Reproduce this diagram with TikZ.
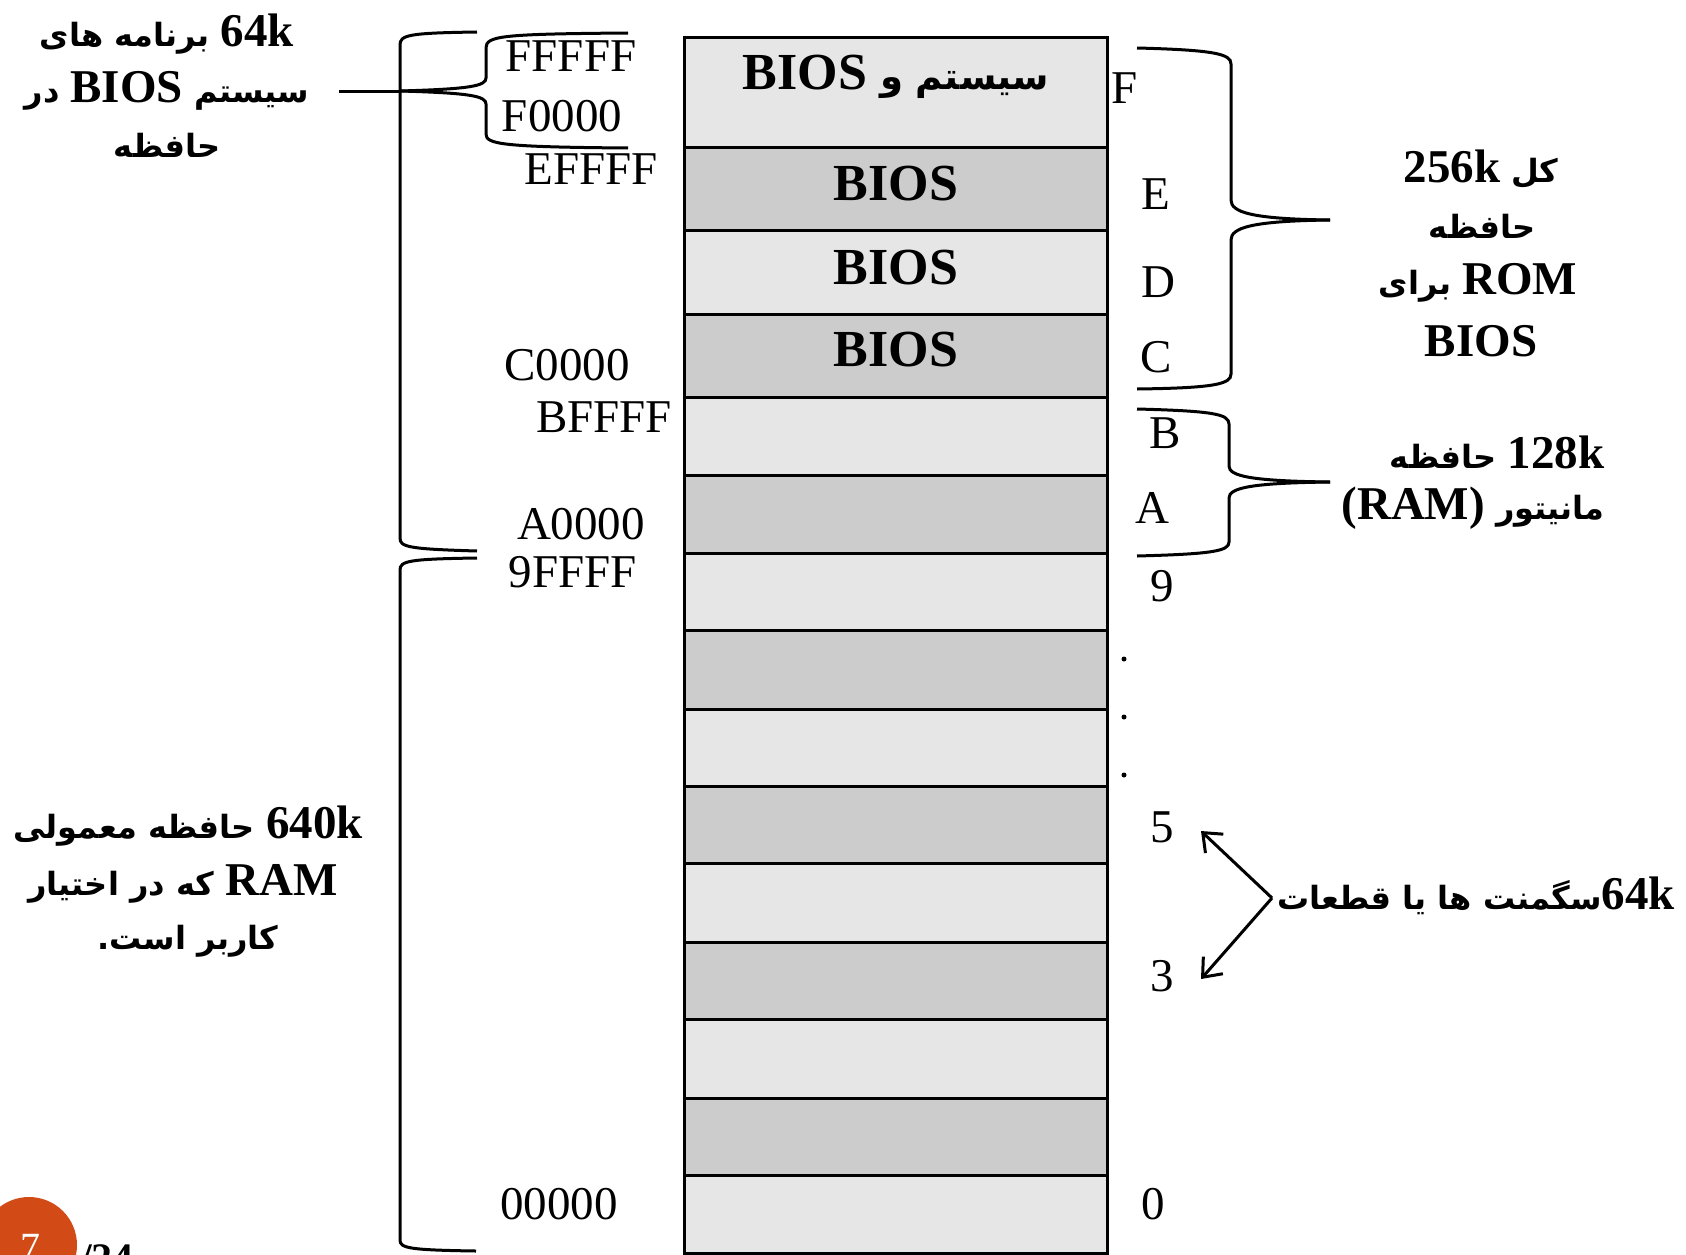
\documentclass[tikz,border=0pt]{standalone}
\usepackage{fontspec}
\setmainfont{Liberation Serif}
\newfontfamily\myfaf[Script=Arabic]{DejaVu Sans}
\TeXXeTstate=1
\usetikzlibrary{arrows.meta}
\definecolor{lightcell}{HTML}{E6E6E6}
\definecolor{darkcell}{HTML}{CCCCCC}
\definecolor{pageorange}{RGB}{210,74,22}
\newcommand\mylbl{\rmfamily\fontsize{47}{56}\selectfont}
\newcommand\myboxb{\rmfamily\fontsize{52}{60}\selectfont\bfseries}
\newcommand\mybld{\rmfamily\fontsize{47}{56}\selectfont\bfseries}
\newcommand\myfa{\myfaf\bfseries\fontsize{32}{40}\selectfont}
\newcommand\myfabig{\myfaf\bfseries\fontsize{37}{44}\selectfont}
\begin{document}
\begin{tikzpicture}[x=1pt,y=-1pt,
  cellbox/.style={draw, line width=3pt, minimum width=423pt, inner sep=0pt, outer sep=0pt, anchor=north west},
  addr/.style={inner sep=0pt, font=\mylbl},
  curly/.style={line width=3pt},
  segarrow/.style={line width=3pt, -{Straight Barb[length=16pt,width=26pt]}},
  fatext/.style={inner sep=0pt, font=\myfa}]
\useasboundingbox (0,0) rectangle (1686,1255);
% memory cells
\foreach \t/\b/\c [count=\i] in {38/147/lightcell,147/230/darkcell,230/314/lightcell,314/397/darkcell,
  397/475/lightcell,475/553/darkcell,553/630/lightcell,630/709/darkcell,709/786/lightcell,786/863/darkcell,
  863/942/lightcell,942/1019/darkcell,1019/1098/lightcell,1098/1175/darkcell,1175/1253/lightcell}
  \node[cellbox, fill=\c, minimum height={(\b-\t)*1pt}] (c\i) at (684,\t) {};
% cell texts
\node[inner sep=0pt, font=\myfabig] (tF) at (896,77) {\beginR سیستم و \beginL{\myboxb BIOS}\endL\endR};
\node[inner sep=0pt, font=\myboxb] (tE) at (896,184) {BIOS};
\node[inner sep=0pt, font=\myboxb] (tD) at (896,268) {BIOS};
\node[inner sep=0pt, font=\myboxb] (tC) at (896,350) {BIOS};
% addresses on the left
\node[addr] (aFFFFF) at (571,56) {FFFFF};
\node[addr] (aF0000) at (562,116) {F0000};
\node[addr] (aEFFFF) at (591,169) {EFFFF};
\node[addr] (aC0000) at (567,365) {C0000};
\node[addr] (aBFFFF) at (604,417) {BFFFF};
\node[addr] (aA0000) at (581,524) {A0000};
\node[addr] (a9FFFF) at (573,572) {9FFFF};
\node[addr] (a00000) at (559,1204) {00000};
% segment numbers on the right
\node[addr] (sF) at (1125,88) {F};
\node[addr] (sE) at (1156,194) {E};
\node[addr] (sD) at (1158,282) {D};
\node[addr] (sC) at (1156,357) {C};
\node[addr] (sB) at (1165,433) {B};
\node[addr] (sA) at (1152,508) {A};
\node[addr] (s9) at (1162,586) {9};
\node[addr] (s5) at (1162,827) {5};
\node[addr] (s3) at (1162,976) {3};
\node[addr] (s0) at (1153,1204) {0};
\fill (1124,659) circle (2.5);
\fill (1124,717) circle (2.5);
\fill (1124,775) circle (2.5);
% left braces
\draw[curly] (477,32) .. controls (408,33) and (400,35) .. (400,45) -- (400,538) .. controls (400,547) and (408,549) .. (477,551);
\draw[curly] (477,558) .. controls (408,559) and (400,561) .. (400,570) -- (400,1240) .. controls (400,1248) and (408,1250) .. (476,1251);
\draw[curly] (628,33) .. controls (500,34) and (486,36) .. (486,48) -- (486,78) .. controls (486,86) and (470,89) .. (400,91);
\draw[curly] (400,91) .. controls (470,93) and (486,96) .. (486,104) -- (486,134) .. controls (486,144) and (500,147) .. (628,148);
\coordinate (tipL) at (339,91);
\draw[curly] (tipL) -- (400,91);
% right braces
\draw[curly] (1137,48) .. controls (1215,50) and (1231,54) .. (1231,64) -- (1231,200) .. controls (1231,212) and (1250,219) .. (1330,220);
\draw[curly] (1330,220) .. controls (1250,221) and (1231,228) .. (1231,240) -- (1231,374) .. controls (1231,384) and (1215,388) .. (1137,389);
\draw[curly] (1137,409) .. controls (1213,411) and (1229,414) .. (1229,424) -- (1229,466) .. controls (1229,476) and (1250,481) .. (1330,482);
\draw[curly] (1330,482) .. controls (1250,483) and (1229,488) .. (1229,498) -- (1229,542) .. controls (1229,551) and (1213,554) .. (1137,556);
% top-left text
\node[fatext] (tl1) at (167,34) {\beginR\beginL{\mybld 64k}\endL{} برنامه های\endR};
\node[fatext] (tl2) at (167,91) {\beginR سیستم \beginL{\mybld BIOS}\endL{} در\endR};
\node[fatext] (tl3) at (167,145) {\beginR حافظه\endR};
% bottom-left text
\node[fatext] (bl1) at (188,826) {\beginR\beginL{\mybld 640k}\endL{} حافظه معمولی\endR};
\node[fatext] (bl2) at (183,884) {\beginR\beginL{\mybld RAM}\endL{} که در اختیار\endR};
\node[fatext] (bl3) at (188,941) {\beginR کاربر است.\endR};
% right text 256k
\node[fatext] (r1) at (1481,169) {\beginR کل \beginL{\mybld 256k}\endL\endR};
\node[fatext] (r2) at (1482,226) {\beginR حافظه\endR};
\node[fatext] (r3) at (1478,283) {\beginR\beginL{\mybld ROM}\endL{} برای\endR};
\node[inner sep=0pt, font=\mybld] (r4) at (1481,341) {BIOS};
% right text 128k
\node[fatext] (m1) at (1497,452) {\beginR\beginL{\mybld 128k}\endL{} حافظه\endR};
\node[fatext] (m2) at (1473,508) {\beginR مانیتور \beginL{\mybld (RAM)}\endL\endR};
% segments
\coordinate (vx) at (1272,898);
\coordinate (t5) at (1201,831);
\coordinate (t3) at (1201,979);
\draw[segarrow] (vx) -- (t5);
\draw[segarrow] (vx) -- (t3);
\node[fatext, anchor=west] (seg) at (1277,896) {\beginR\beginL{\mybld 64k}\endL سگمنت ها یا قطعات\endR};
% page number
\node[circle, fill=pageorange, minimum size=96pt, inner sep=0pt] (pg) at (29,1245) {};
\node[text=white, inner sep=0pt, font=\fontsize{40}{40}\selectfont] (pgn) at (30,1247) {7};
\node[anchor=base west, inner sep=0pt, font=\fontsize{42}{42}\selectfont\bfseries] (pgt) at (80,1272) {/24};
\end{tikzpicture}
\end{document}
